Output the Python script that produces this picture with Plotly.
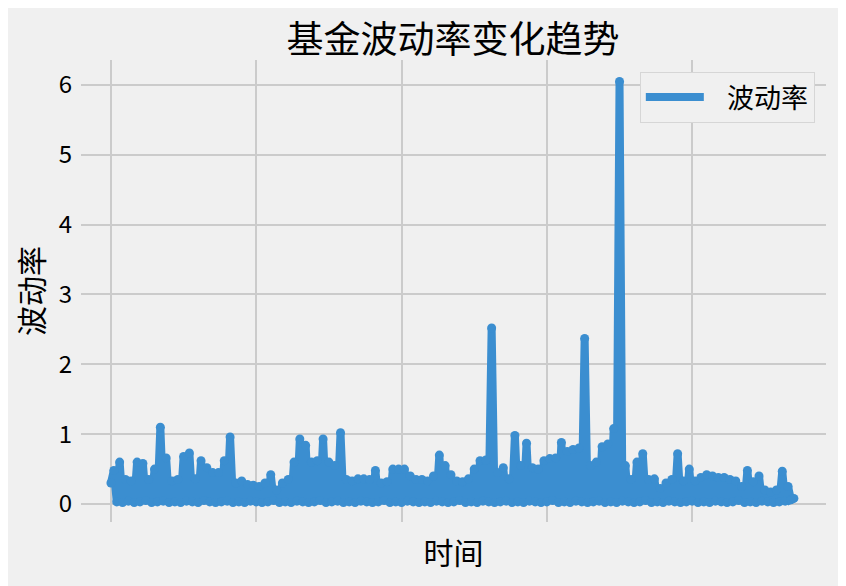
import plotly.graph_objects as go

_BG = "#f0f0f0"
_GRID = "#cbcbcb"
_LINE = "#3b8ed0"
_FONT = "Noto Sans CJK SC"

# Fund volatility (alternating troughs / peaks)
volatility = [
    0.30,
    0.48, 0.03, 0.60, 0.02, 0.35, 0.04, 0.33, 0.02, 0.60, 0.03,
    0.58, 0.05, 0.35, 0.02, 0.50, 0.03, 1.10, 0.04, 0.66, 0.02,
    0.33, 0.03, 0.35, 0.02, 0.68, 0.04, 0.73, 0.03, 0.36, 0.02,
    0.62, 0.05, 0.52, 0.03, 0.45, 0.02, 0.45, 0.03, 0.62, 0.04,
    0.96, 0.02, 0.30, 0.03, 0.33, 0.02, 0.28, 0.04, 0.27, 0.03,
    0.25, 0.02, 0.30, 0.03, 0.42, 0.05, 0.20, 0.02, 0.30, 0.03,
    0.35, 0.02, 0.60, 0.04, 0.93, 0.03, 0.84, 0.02, 0.60, 0.03,
    0.62, 0.05, 0.93, 0.02, 0.60, 0.03, 0.55, 0.04, 1.02, 0.02,
    0.35, 0.03, 0.33, 0.02, 0.36, 0.04, 0.36, 0.03, 0.35, 0.02,
    0.48, 0.03, 0.30, 0.05, 0.32, 0.02, 0.50, 0.03, 0.50, 0.02,
    0.50, 0.04, 0.40, 0.03, 0.35, 0.02, 0.35, 0.03, 0.33, 0.02,
    0.40, 0.04, 0.70, 0.03, 0.55, 0.02, 0.42, 0.03, 0.33, 0.05,
    0.32, 0.02, 0.36, 0.03, 0.50, 0.02, 0.62, 0.04, 0.63, 0.03,
    2.52, 0.02, 0.45, 0.03, 0.52, 0.04, 0.36, 0.02, 0.98, 0.03,
    0.55, 0.02, 0.87, 0.04, 0.52, 0.03, 0.50, 0.02, 0.62, 0.03,
    0.65, 0.05, 0.66, 0.02, 0.88, 0.03, 0.75, 0.02, 0.78, 0.04,
    0.80, 0.03, 2.37, 0.02, 0.55, 0.03, 0.60, 0.04, 0.82, 0.02,
    0.86, 0.03, 1.08, 0.02, 6.05, 0.04, 0.55, 0.03, 0.35, 0.02,
    0.60, 0.03, 0.72, 0.05, 0.35, 0.02, 0.36, 0.03, 0.22, 0.02,
    0.30, 0.04, 0.35, 0.03, 0.72, 0.02, 0.33, 0.03, 0.50, 0.04,
    0.33, 0.02, 0.38, 0.03, 0.42, 0.02, 0.40, 0.04, 0.38, 0.03,
    0.38, 0.02, 0.35, 0.03, 0.33, 0.05, 0.25, 0.02, 0.48, 0.03,
    0.32, 0.02, 0.40, 0.04, 0.20, 0.03, 0.17, 0.02, 0.20, 0.03,
    0.47, 0.04, 0.25, 0.06, 0.08,
]
# trading-day index of each observation
days = list(range(0, 2 * len(volatility), 2))

x_ticks = [0, 100, 200, 300, 400]
y_ticks = [0, 1, 2, 3, 4, 5, 6]

fig = go.Figure()
fig.add_trace(go.Scatter(
    x=days, y=volatility,
    mode="lines",
    name="\u00a0\u00a0\u00a0波动率",
    line=dict(color=_LINE, width=8),
))
# round joins/caps like matplotlib's thick line
fig.add_trace(go.Scatter(
    x=days, y=volatility,
    mode="markers",
    marker=dict(color=_LINE, size=9, line=dict(width=0)),
    showlegend=False, hoverinfo="skip",
))

fig.update_layout(
    width=846, height=586,
    paper_bgcolor=_BG, plot_bgcolor=_BG,
    font=dict(family=_FONT, color="black"),
    margin=dict(l=73, r=28, t=52, b=72),
    title=dict(
        text="基金波动率变化趋势",
        font=dict(size=37, family=_FONT, color="black"),
        x=0.526, xanchor="center", y=0.946, yanchor="middle",
    ),
    showlegend=True,
    legend=dict(
        x=0.985, xanchor="right", y=0.974, yanchor="top",
        bgcolor=_BG, bordercolor="#d6d6d6", borderwidth=1,
        font=dict(size=27, family=_FONT),
        itemwidth=58,
    ),
)
fig.update_xaxes(
    range=[-20.6, 492.1],
    tickvals=x_ticks, showticklabels=False,
    showgrid=True, gridcolor=_GRID, gridwidth=1.5,
    zeroline=False, showline=False, automargin=False,
    title=dict(text="时间", font=dict(size=30, family=_FONT), standoff=20),
)
fig.update_yaxes(
    range=[-0.258, 6.358],
    tickvals=y_ticks,
    tickfont=dict(size=24, family=_FONT),
    showgrid=True, gridcolor=_GRID, gridwidth=1.5,
    zeroline=False, showline=False, automargin=False,
    ticks="", ticklabelstandoff=8,
    title=dict(text="波动率", font=dict(size=30, family=_FONT), standoff=12),
)

fig.write_html("out.html")
